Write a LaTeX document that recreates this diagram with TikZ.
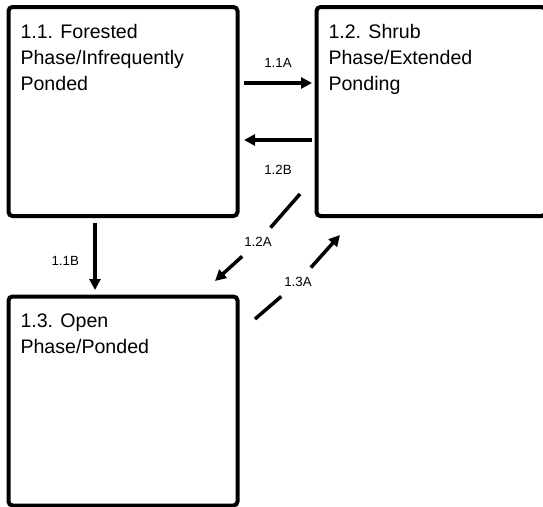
\documentclass[tikz,border=0pt]{standalone}
\usepackage{fontspec}
\setmainfont{Liberation Sans}
\usetikzlibrary{positioning,arrows.meta,calc}
\tikzset{>={Triangle[length=11pt,width=11pt]}}
\newcommand{\statetext}[1]{\parbox[t][174pt][t]{205pt}{\raggedright #1}}

\begin{document}
\begin{tikzpicture}[x=1pt, y=-1pt, node distance=79pt,
    statebox/.style={draw, line width=4pt, rounded corners=4pt, outer sep=0pt,
      inner xsep=12pt, inner ysep=17.5pt, font=\fontsize{19.6}{26}\selectfont},
    trans/.style={->, line width=3.5pt},
    translabel/.style={font=\fontsize{13.3}{15}\selectfont},
    gaplabel/.style={translabel, inner xsep=3pt, inner ysep=9.5pt}]
    \useasboundingbox (0,0) rectangle (543,506);

    \node[statebox, anchor=north west] (s11) at (8.5,7) {\statetext{1.1. Forested\\Phase/Infrequently\\Ponded}};
    \node[statebox] (s12) [right=79pt of s11] {\statetext{1.2. Shrub\\Phase/Extended\\Ponding}};
    \node[statebox] (s13) [below=80.5pt of s11] {\statetext{1.3. Open\\Phase/Ponded}};

    % free ends of the transitions
    \coordinate (t11a) at (244,83);
    \coordinate (h11a) at (312,83);
    \coordinate (t12b) at (312,140);
    \coordinate (h12b) at (244,140);
    \coordinate (t11b) at (95,223);
    \coordinate (h11b) at (95,290);
    \coordinate (t12a) at (300,194);
    \coordinate (h12a) at (215,281);
    \coordinate (t13a) at (255,319);
    \coordinate (h13a) at (340,235);
    \node[gaplabel] (l12a) at (258,242) {1.2A};
    \node[gaplabel] (l13a) at (298,282) {1.3A};

    \draw[trans] (t11a) -- node[translabel, above=10pt] {1.1A} (h11a);
    \draw[trans] (t12b) -- node[translabel, below=20pt] {1.2B} (h12b);
    \draw[trans] (t11b) -- node[translabel, left=11pt, pos=.57] {1.1B} (h11b);
    \draw[trans] (t12a) -- (l12a) -- (h12a);
    \draw[trans] (t13a) -- (l13a) -- (h13a);
\end{tikzpicture}
\end{document}
